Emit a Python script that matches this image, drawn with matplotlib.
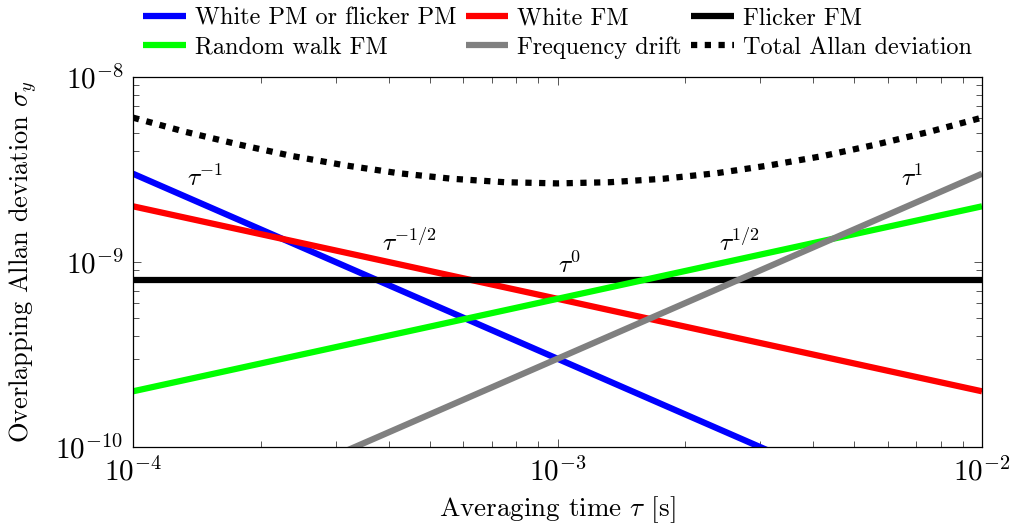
import matplotlib
matplotlib.use('Agg')
import matplotlib.pyplot as plt
from matplotlib.ticker import LogLocator, NullFormatter

plt.rcParams['font.family'] = 'serif'
plt.rcParams['font.serif'] = ['cmr10']
plt.rcParams['mathtext.fontset'] = 'cm'
plt.rcParams['axes.formatter.use_mathtext'] = True
plt.rcParams['axes.unicode_minus'] = False

# endpoints of each noise term (tau in s, sigma_y)
tau_ends = [1e-4, 1e-2]
white_pm = [3e-9, 3e-11]
white_fm = [2e-9, 2e-10]
flicker_fm = [8e-10, 8e-10]
random_walk = [2e-10, 2e-9]
drift = [3e-11, 3e-9]

# total deviation
tau_total = [1e-4, 1.33e-4, 1.78e-4, 2.37e-4, 3.16e-4, 4.22e-4, 5.62e-4, 7.5e-4, 1e-3,
             1.33e-3, 1.78e-3, 2.37e-3, 3.16e-3, 4.22e-3, 5.62e-3, 7.5e-3, 1e-2]
total = [6.03e-9, 5.05e-9, 4.31e-9, 3.74e-9, 3.33e-9, 3.02e-9, 2.82e-9, 2.70e-9, 2.66e-9,
         2.70e-9, 2.82e-9, 3.02e-9, 3.33e-9, 3.74e-9, 4.31e-9, 5.05e-9, 6.03e-9]

fig = plt.figure(figsize=(10.15, 5.32), dpi=100)
ax = fig.add_axes([133 / 1015, 1 - 447 / 532, 849 / 1015, 370 / 532])

lw = 4.5
kw = dict(lw=lw, solid_capstyle='butt')
h1, = ax.plot(tau_ends, white_pm, color='#0000ff', label='White PM or flicker PM', **kw)
h2, = ax.plot(tau_ends, white_fm, color='#ff0000', label='White FM', **kw)
h3, = ax.plot(tau_ends, flicker_fm, color='black', label='Flicker FM', **kw)
h4, = ax.plot(tau_ends, random_walk, color='#00ff00', label='Random walk FM', **kw)
h5, = ax.plot(tau_ends, drift, color='#808080', label='Frequency drift', **kw)
h6, = ax.plot(tau_total, total, color='black', lw=lw, dashes=(1, 1.2), dash_capstyle='butt',
              label='Total Allan deviation')

ax.set_xscale('log')
ax.set_yscale('log')
ax.set_xlim(1e-4, 1e-2)
ax.set_ylim(1e-10, 1e-8)

ax.xaxis.set_major_locator(LogLocator(base=10, numticks=10))
ax.yaxis.set_major_locator(LogLocator(base=10, numticks=10))
ax.xaxis.set_minor_locator(LogLocator(base=10, subs=range(2, 10), numticks=20))
ax.yaxis.set_minor_locator(LogLocator(base=10, subs=range(2, 10), numticks=20))
ax.xaxis.set_minor_formatter(NullFormatter())
ax.yaxis.set_minor_formatter(NullFormatter())
ax.tick_params(which='both', direction='in', top=True, right=True, color='#555555', width=0.7,
               labelsize=21)
ax.tick_params(which='major', length=6, pad=7)
ax.tick_params(which='minor', length=4)
for s in ax.spines.values():
    s.set_linewidth(0.9)

ax.set_xlabel(r'Averaging time $\tau$ [s]', fontsize=19.5, labelpad=6)
ax.set_ylabel(r'Overlapping Allan deviation $\sigma_y$', fontsize=19)
ax.yaxis.set_label_coords(-0.111, 0.5)

# slope labels
fs = 18.5
ax.text(1.48e-4, 2.84e-9, r'$\tau^{-1}$', fontsize=fs, ha='center', va='center')
ax.text(4.49e-4, 1.28e-9, r'$\tau^{-1/2}$', fontsize=fs, ha='center', va='center')
ax.text(1.07e-3, 9.6e-10, r'$\tau^{0}$', fontsize=fs, ha='center', va='center')
ax.text(2.69e-3, 1.27e-9, r'$\tau^{1/2}$', fontsize=fs, ha='center', va='center')
ax.text(6.84e-3, 2.84e-9, r'$\tau^{1}$', fontsize=fs, ha='center', va='center')

# legend filled column-wise, so interleave to read row by row
handles = [h1, h4, h2, h5, h3, h6]
ax.legend(handles=handles, labels=[h.get_label() for h in handles],
          loc='lower center', bbox_to_anchor=(0.5, 1.016), ncol=3, frameon=False, fontsize=17.5,
          handlelength=1.73, handletextpad=0.37, columnspacing=0.41, labelspacing=0.27,
          borderaxespad=0.1)

fig.savefig('out.png', dpi=100)
